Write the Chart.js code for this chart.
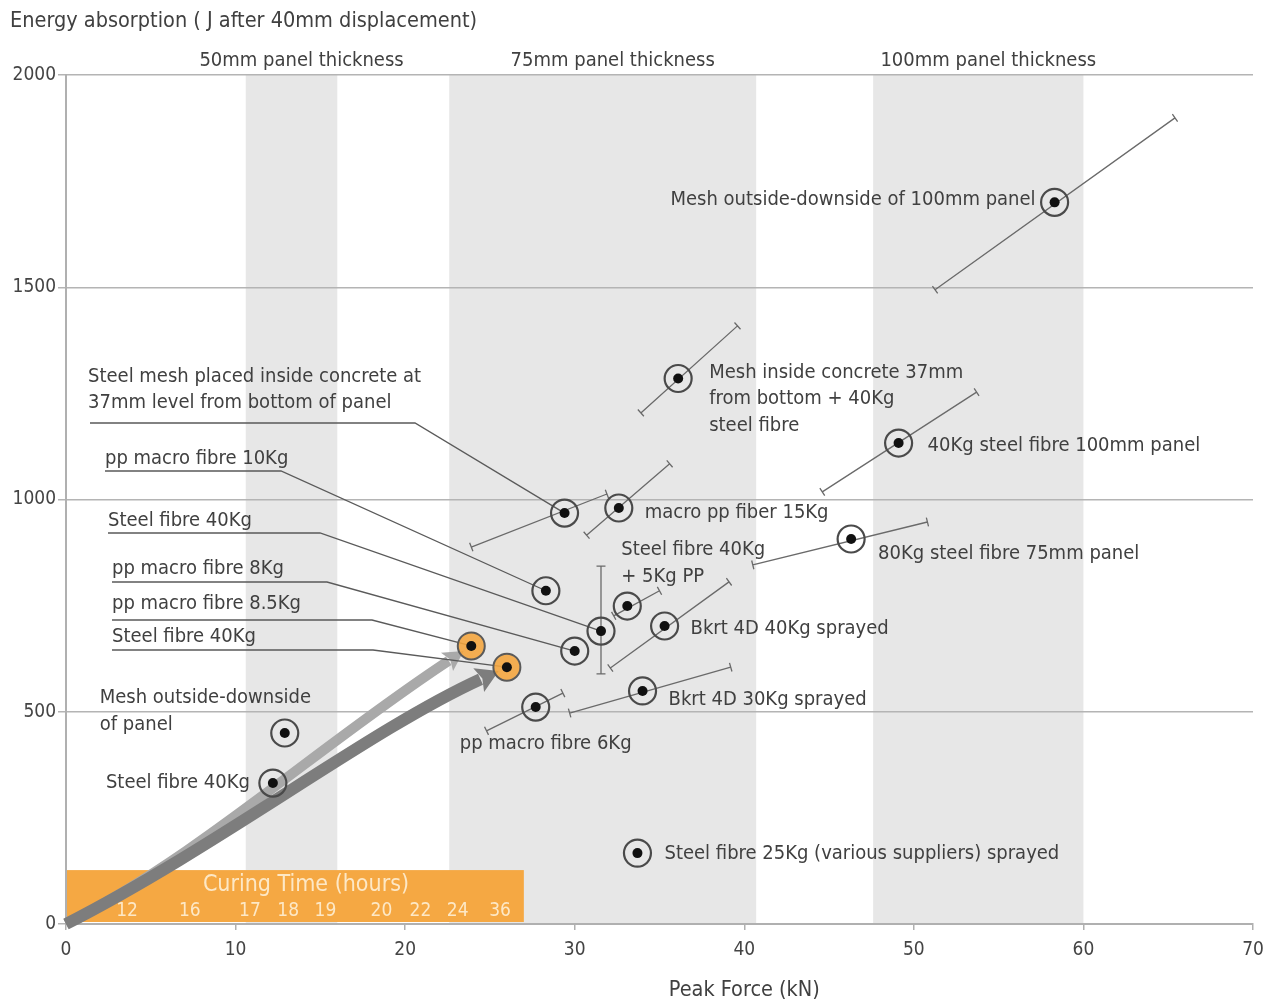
<!DOCTYPE html>
<html>
<head>
<meta charset="utf-8">
<title>Energy absorption vs peak force</title>
<script src="https://cdn.jsdelivr.net/npm/chart.js@4"></script>
<style>
  html, body { margin: 0; padding: 0; background: #fff; }
</style>
</head>
<body>
<canvas id="chart" width="1274" height="1001"></canvas>
<script>
// test panels: name, peak force (kN), energy (J after 40mm)
const mixes = [
  'Mesh outside-downside of 100mm panel',
  'Mesh inside concrete 37mm\nfrom bottom + 40Kg\nsteel fibre',
  '40Kg steel fibre 100mm panel',
  'macro pp fiber 15Kg',
  'Steel mesh placed inside concrete at\n37mm level from bottom of panel',
  '80Kg steel fibre 75mm panel',
  'pp macro fibre 10Kg',
  'Steel fibre 40Kg',
  'Steel fibre 40Kg\n+ 5Kg PP',
  'Bkrt 4D 40Kg sprayed',
  'pp macro fibre 8Kg',
  'pp macro fibre 8.5Kg',
  'Steel fibre 40Kg',
  'Bkrt 4D 30Kg sprayed',
  'pp macro fibre 6Kg',
  'Mesh outside-downside\nof panel',
  'Steel fibre 40Kg',
  'Steel fibre 25Kg (various suppliers) sprayed'
];
const peakForce = [58.3, 36.1, 49.1, 32.6, 29.4, 46.3, 28.3, 31.55, 33.1, 35.3, 30.0, 23.9, 26.0, 34.0, 27.7, 12.9, 12.2, 33.7];
const energy    = [1700, 1285, 1133, 980, 968, 907, 785, 690, 749, 702, 643, 655, 605, 549, 511, 450, 332, 167];
// cured panels (shown orange, reached by the curing arrows)
const cured     = [false, false, false, false, false, false, false, false, false, false, false, true, true, false, false, false, false, false];

// scatter of each result: low end and high end (null = no spread drawn)
const spreadLoForce  = [51.25, 33.9, 44.6, 30.7, 23.9, 40.5, null, 31.55, 32.3, 32.1, null, null, null, 29.7, 24.8, null, null, null];
const spreadLoEnergy = [1494, 1204, 1018, 916, 888, 846, null, 589, 726, 603, null, null, null, 497, 455, null, null, null];
const spreadHiForce  = [65.4, 39.6, 53.7, 35.6, 31.9, 50.8, null, 31.55, 35.0, 39.1, null, null, null, 39.2, 29.3, null, null, null];
const spreadHiEnergy = [1899, 1409, 1253, 1084, 1013, 947, null, 843, 785, 806, null, null, null, 605, 544, null, null, null];

// panel thickness bands on the force axis
const bandNames = ['50mm panel thickness', '75mm panel thickness', '100mm panel thickness'];
const bandFrom  = [10.6, 22.6, 47.6];
const bandTo    = [16.0, 40.7, 60.0];

// curing time strip
const curingHours = ['12', '16', '17', '18', '19', '20', '22', '24', '36'];
const curingAt    = [3.6, 7.3, 10.85, 13.1, 15.3, 18.6, 20.9, 23.1, 25.6];
const curingEnd = 27;
const curingTop = 127;

// label placement: offset from the point (px) or a text block with an underline leader
const labelPlace = {
  0:  { dx: -19, dy: -3, align: 'right' },
  1:  { dx: 31, dy: -6 },
  2:  { dx: 29, dy: 3 },
  3:  { dx: 26, dy: 5 },
  4:  { tx: 88, ty: 377, ux0: 90, ux1: 415, uy: 423 },
  5:  { dx: 27, dy: 15 },
  6:  { tx: 105, ty: 459, ux0: 105, ux1: 281, uy: 471 },
  7:  { tx: 108, ty: 521, ux0: 108, ux1: 320, uy: 533 },
  8:  { dx: -6, dy: -56 },
  9:  { dx: 26, dy: 3 },
  10: { tx: 112, ty: 569, ux0: 112, ux1: 327, uy: 582 },
  11: { tx: 112, ty: 604, ux0: 112, ux1: 372, uy: 620 },
  12: { tx: 112, ty: 637, ux0: 112, ux1: 373, uy: 650 },
  13: { dx: 26, dy: 9 },
  14: { dx: -76, dy: 37 },
  15: { dx: -185, dy: -35 },
  16: { dx: -23, dy: 0, align: 'right' },
  17: { dx: 27, dy: 1 }
};

const FONT = '"Liberation Sans Narrow", "DejaVu Sans Condensed", sans-serif';
const TEXT = '#404040';

const ringPts = [], curedPts = [], allPts = [];
peakForce.forEach((f, i) => {
  const p = { x: f, y: energy[i] };
  allPts.push(p);
  (cured[i] ? curedPts : ringPts).push(p);
});

function drawArrow(ctx, p0, c1, c2, end, width, color, hl, hw) {
  let dx = end.x - c2.x, dy = end.y - c2.y;
  const len = Math.hypot(dx, dy);
  dx /= len; dy /= len;
  const tip = { x: end.x - dx * 9, y: end.y - dy * 9 };
  const base = { x: tip.x - dx * hl, y: tip.y - dy * hl };
  ctx.save();
  ctx.strokeStyle = color;
  ctx.fillStyle = color;
  ctx.lineWidth = width;
  ctx.lineCap = 'butt';
  ctx.beginPath();
  ctx.moveTo(p0.x, p0.y);
  ctx.bezierCurveTo(c1.x, c1.y, c2.x, c2.y, base.x + dx * 2, base.y + dy * 2);
  ctx.stroke();
  ctx.beginPath();
  ctx.moveTo(tip.x, tip.y);
  ctx.lineTo(base.x - dy * hw, base.y + dx * hw);
  ctx.lineTo(base.x + dx * 4, base.y + dy * 4);
  ctx.lineTo(base.x + dy * hw, base.y - dx * hw);
  ctx.closePath();
  ctx.fill();
  ctx.restore();
}

function textLines(ctx, str, x, y, lh) {
  str.split('\n').forEach((s, k) => ctx.fillText(s, x, y + k * lh));
}

const decor = {
  id: 'decor',
  beforeDraw(c) {
    const { ctx, chartArea: a, scales: { x } } = c;
    ctx.save();
    ctx.fillStyle = '#e7e7e7';
    bandFrom.forEach((b, i) => {
      ctx.fillRect(x.getPixelForValue(b), a.top, x.getPixelForValue(bandTo[i]) - x.getPixelForValue(b), a.bottom - a.top);
    });
    ctx.restore();
  },
  beforeDatasetsDraw(c) {
    const { ctx, scales: { x, y } } = c;
    const P = (fx, ey) => ({ x: x.getPixelForValue(fx), y: y.getPixelForValue(ey) });

    // curing time strip
    ctx.save();
    const c0 = P(0, 0), c1 = P(curingEnd, curingTop);
    ctx.fillStyle = '#f5a843';
    ctx.fillRect(c0.x + 1, c1.y, c1.x - c0.x - 1, c0.y - c1.y - 2);
    ctx.fillStyle = '#fde8c6';
    ctx.textBaseline = 'middle';
    ctx.textAlign = 'center';
    ctx.font = '23px ' + FONT;
    ctx.fillText('Curing Time (hours)', x.getPixelForValue(14.15), c1.y + 15);
    ctx.font = '19px ' + FONT;
    curingHours.forEach((h, i) => ctx.fillText(h, x.getPixelForValue(curingAt[i]), c1.y + 41));
    ctx.restore();

    // curing arrows from the origin to the cured panels
    const o = P(0, 0);
    const ci = cured.map((v, i) => v ? i : -1).filter(i => i >= 0);
    drawArrow(ctx, o, P(7.9, 162), P(15.0, 422), P(peakForce[ci[0]], energy[ci[0]]), 10, '#a9a9a9', 20, 11);
    drawArrow(ctx, o, P(9.1, 186), P(17.9, 457), P(peakForce[ci[1]], energy[ci[1]]), 12, '#7d7d7d', 22, 13);

    // spread lines with end caps
    ctx.save();
    ctx.strokeStyle = '#6a6a6a';
    ctx.lineWidth = 1.3;
    spreadLoForce.forEach((lf, i) => {
      if (lf === null) return;
      const p = P(lf, spreadLoEnergy[i]), q = P(spreadHiForce[i], spreadHiEnergy[i]);
      let dx = q.x - p.x, dy = q.y - p.y;
      const L = Math.hypot(dx, dy);
      dx /= L; dy /= L;
      ctx.beginPath();
      ctx.moveTo(p.x, p.y); ctx.lineTo(q.x, q.y);
      [p, q].forEach(e => {
        ctx.moveTo(e.x - dy * 4.5, e.y + dx * 4.5);
        ctx.lineTo(e.x + dy * 4.5, e.y - dx * 4.5);
      });
      ctx.stroke();
    });

    // leader lines
    ctx.strokeStyle = '#5a5a5a';
    ctx.lineWidth = 1.3;
    Object.keys(labelPlace).forEach(k => {
      const l = labelPlace[k];
      if (l.uy === undefined) return;
      const p = P(peakForce[k], energy[k]);
      ctx.beginPath();
      ctx.moveTo(l.ux0, l.uy);
      ctx.lineTo(l.ux1, l.uy);
      ctx.lineTo(p.x, p.y);
      ctx.stroke();
    });
    ctx.restore();
  },
  afterDatasetsDraw(c) {
    const { ctx, chartArea: a, scales: { x, y } } = c;
    ctx.save();
    ctx.fillStyle = TEXT;
    ctx.textBaseline = 'middle';
    ctx.font = '20px ' + FONT;

    mixes.forEach((m, i) => {
      const l = labelPlace[i];
      if (l.tx !== undefined) {
        ctx.textAlign = 'left';
        textLines(ctx, m, l.tx, l.ty, 26);
      } else {
        ctx.textAlign = l.align || 'left';
        textLines(ctx, m, x.getPixelForValue(peakForce[i]) + l.dx, y.getPixelForValue(energy[i]) + l.dy, 26.5);
      }
    });

    // band headings
    ctx.textAlign = 'center';
    bandNames.forEach((b, i) => {
      const cx = (x.getPixelForValue(bandFrom[i]) + x.getPixelForValue(bandTo[i])) / 2 + 10;
      ctx.fillText(b, cx, a.top - 14);
    });

    // axis titles
    ctx.font = '21.5px ' + FONT;
    ctx.textAlign = 'left';
    ctx.fillText('Energy absorption ( J after 40mm displacement)', 10, 21);
    ctx.textAlign = 'center';
    ctx.fillText('Peak Force (kN)', x.getPixelForValue(40), 990);
    ctx.restore();
  }
};

const tickFont = { family: FONT, size: 19 };

new Chart(document.getElementById('chart'), {
  type: 'scatter',
  data: {
    datasets: [
      { label: 'centre', data: allPts, pointRadius: 5, pointBackgroundColor: '#111', pointBorderWidth: 0, order: 0 },
      { label: 'ring', data: ringPts, pointRadius: 13.5, pointBorderColor: '#4a4a4a', pointBorderWidth: 2.2, pointBackgroundColor: 'rgba(0,0,0,0)', order: 1 },
      { label: 'cured', data: curedPts, pointRadius: 13.5, pointBorderColor: '#5a5a5a', pointBorderWidth: 2, pointBackgroundColor: 'rgba(245,165,60,0.88)', order: 2 }
    ]
  },
  options: {
    responsive: false,
    animation: false,
    layout: { padding: { top: 75, right: 21, left: 0, bottom: 0 } },
    plugins: { legend: { display: false }, tooltip: { enabled: false } },
    scales: {
      x: {
        type: 'linear', min: 0, max: 70,
        ticks: { stepSize: 10, color: '#444', font: tickFont, padding: 9 },
        grid: { drawOnChartArea: false, drawTicks: true, tickLength: 6, color: '#b0b0b0', lineWidth: 1.5 },
        border: { color: '#b0b0b0', width: 2 },
        afterFit(s) { s.height = 77; }
      },
      y: {
        min: 0, max: 2000,
        ticks: { stepSize: 500, color: '#444', font: tickFont, padding: 2, callback: v => String(v) },
        grid: { color: '#b4b4b4', lineWidth: 1.5, tickLength: 8 },
        border: { color: '#b0b0b0', width: 2 },
        afterFit(s) { s.width = 66; }
      }
    }
  },
  plugins: [decor]
});
</script>
</body>
</html>
